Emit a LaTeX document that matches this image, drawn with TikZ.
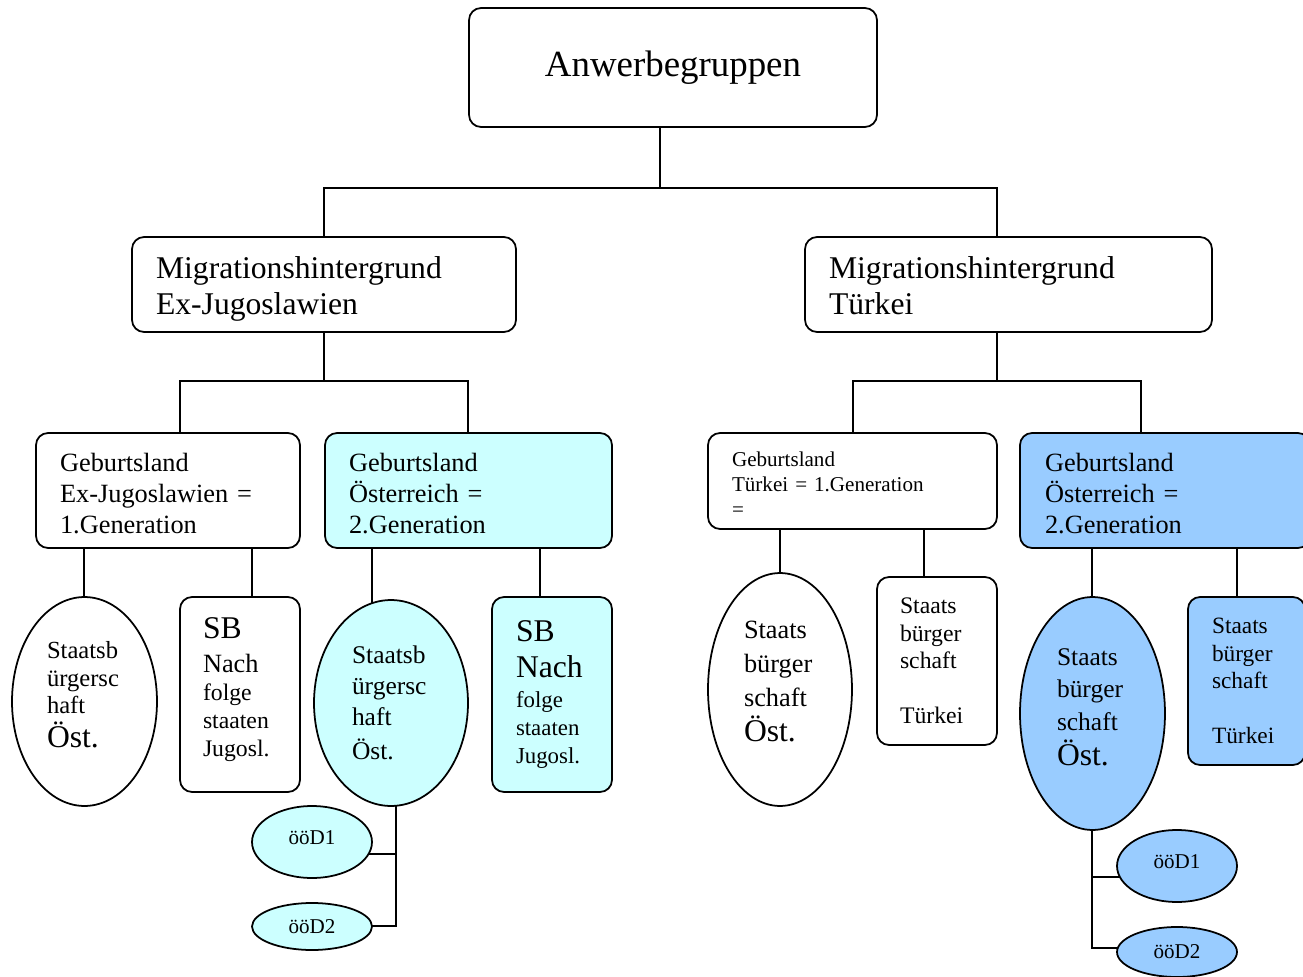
\documentclass[tikz,border=0pt]{standalone}
\usepackage{fontspec}
\setmainfont{Liberation Serif}
\usetikzlibrary{shapes,backgrounds}
\hyphenpenalty=10000
\definecolor{AT_CYAN}{HTML}{CCFFFF}
\definecolor{AT_BLUE}{HTML}{99CCFF}
\newcommand{\fsz}[2]{\fontsize{#1}{#2}\selectfont}
\newcommand{\padtop}[1]{\rule{0pt}{#1}}
\newcommand{\padbot}[1]{\rule[-#1]{0pt}{#1}}
\tikzstyle{WHITE_COLOR}=[fill=white]
\tikzstyle{CYAN_COLOR}=[fill=AT_CYAN]
\tikzstyle{BLUE_COLOR}=[fill=AT_BLUE]
\tikzstyle{grp_base}=[draw=black, line width=1pt, inner sep=0pt, align=left]
\tikzstyle{grp_box}=[grp_base, rectangle, rounded corners=0.24cm]
\tikzstyle{grp_oval}=[grp_base, ellipse]
\tikzstyle{sb_box}=[grp_box, minimum width=2.4cm, minimum height=3.9cm]
\tikzstyle{dd_oval}=[grp_oval, minimum width=2.4cm, font=\fsz{12}{14}]
\tikzstyle{link}=[line width=1pt]

\begin{document}
\begin{tikzpicture}[x=0.02cm, y=-0.02cm]
      \useasboundingbox (0,0) rectangle (1303,977);

      % top
      \node[grp_box, WHITE_COLOR, minimum width=8.16cm, minimum height=2.38cm, font=\fsz{21}{24}] (ANW) at (673,67.5) {Anwerbegruppen};

      %%%%%%%%%%%%%%%%%%%%%%%%%%%%%%%%%%%%%%%%%%%%%%%%%
      % MIGRATION GROUPS
      %%%%%%%%%%%%%%%%%%%%%%%%%%%%%%%%%%%%%%%%%%%%%%%%%
      \node[grp_box, WHITE_COLOR, minimum width=7.68cm, minimum height=1.9cm, text width=6.72cm, font=\fsz{18}{20.5}] (MEX) at (324,284.5) {\padtop{18pt}Migrationshintergrund\\Ex-Jugoslawien};
      \node[grp_box, WHITE_COLOR, minimum width=8.14cm, minimum height=1.9cm, text width=7.18cm, font=\fsz{18}{20.5}] (MTR) at (1008.5,284.5) {\padtop{14pt}Migrationshintergrund\\Türkei};

      %%%%%%%%%%%%%%%%%%%%%%%%%%%%%%%%%%%%%%%%%%%%%%%%%
      % GENERATIONS
      %%%%%%%%%%%%%%%%%%%%%%%%%%%%%%%%%%%%%%%%%%%%%%%%%
      \node[grp_box, WHITE_COLOR, minimum width=5.28cm, minimum height=2.3cm, text width=4.32cm, font=\fsz{15}{17.6}] (GEX) at (168,490.5) {\padtop{13.6pt}Geburtsland\\Ex-Jugoslawien =\\1.Generation};
      \node[grp_box, CYAN_COLOR, minimum width=5.74cm, minimum height=2.3cm, text width=4.78cm, font=\fsz{15}{17.6}] (GAT) at (468.5,490.5) {\padtop{13.6pt}Geburtsland\\Österreich =\\2.Generation};
      \node[grp_box, WHITE_COLOR, minimum width=5.78cm, minimum height=1.92cm, text width=4.82cm, font=\fsz{12}{14.2}] (GTR) at (852.5,481) {\padtop{11.5pt}Geburtsland\\Türkei = 1.Generation\\=};
      \node[grp_box, BLUE_COLOR, minimum width=5.8cm, minimum height=2.3cm, text width=4.8cm, font=\fsz{15}{17.6}] (GAT2) at (1165,490.5) {\padtop{13.6pt}Geburtsland\\Österreich =\\2.Generation};

      %%%%%%%%%%%%%%%%%%%%%%%%%%%%%%%%%%%%%%%%%%%%%%%%%
      % CITIZENSHIP
      %%%%%%%%%%%%%%%%%%%%%%%%%%%%%%%%%%%%%%%%%%%%%%%%%
      % Ex-Jugoslawien, 1. Generation
      \node[grp_oval, WHITE_COLOR, minimum width=2.9cm, minimum height=4.18cm, text width=1.5cm, font=\fsz{14}{15.6}] (ELL1) at (84.5,701.5) {Staatsb\\ürgersc\\haft\\[3.7pt]\fsz{18}{15.6}Öst.\padbot{8pt}};
      \node[sb_box, WHITE_COLOR, text width=1.48cm, font=\fsz{13.5}{16}] (SB1) at (240,694.5) {\fsz{18}{16}SB\\[3.3pt]\fsz{15}{16}Nach\\\fsz{13.5}{16}folge\\staaten\\Jugosl.\padbot{8.7pt}};

      % Ex-Jugoslawien, 2. Generation
      \node[grp_oval, CYAN_COLOR, minimum width=3.08cm, minimum height=4.12cm, text width=1.56cm, font=\fsz{14.5}{17.5}] (ELL2) at (391,703) {Staatsb\\ürgersc\\haft\\[2pt]Öst.};
      \node[sb_box, CYAN_COLOR, text width=1.44cm, font=\fsz{13}{16}] (SB2) at (552,694.5) {\fsz{18}{16}SB\\[4.4pt]Nach\\[1pt]\fsz{13}{16}folge\\staaten\\Jugosl.};
      \node[dd_oval, CYAN_COLOR, minimum height=1.44cm, text depth=0.16cm] (D1A) at (312,842) {ööD1};
      \node[dd_oval, CYAN_COLOR, minimum height=0.94cm] (D2A) at (312,926.5) {ööD2};

      % Tuerkei, 1. Generation
      \node[grp_oval, WHITE_COLOR, minimum width=2.88cm, minimum height=4.66cm, text width=1.44cm, font=\fsz{15}{19.3}] (ELL3) at (780,689.5) {Staats\\bürger\\schaft\\[0.7pt]\fsz{18}{19.3}Öst.\padbot{9pt}};
      \node[grp_box, WHITE_COLOR, minimum width=2.4cm, minimum height=3.36cm, text width=1.48cm, font=\fsz{13.5}{15.6}] (BX3) at (937,661) {Staats\\bürger\\schaft\\[15.6pt]Türkei};

      % Tuerkei, 2. Generation
      \node[grp_oval, BLUE_COLOR, minimum width=2.9cm, minimum height=4.66cm, text width=1.42cm, font=\fsz{14.5}{18.6}] (ELL4) at (1092.5,713.5) {Staats\\bürger\\schaft\\[1.5pt]\fsz{18}{18.6}Öst.\padbot{7.5pt}};
      \node[grp_box, BLUE_COLOR, minimum width=2.34cm, minimum height=3.36cm, text width=1.38cm, font=\fsz{13.3}{15.6}] (BX4) at (1246.5,681) {Staats\\bürger\\schaft\\[15.6pt]Türkei};
      \node[dd_oval, BLUE_COLOR, minimum height=1.44cm, text depth=0.16cm] (D1B) at (1177,866) {ööD1};
      \node[dd_oval, BLUE_COLOR, minimum height=1.0cm] (D2B) at (1177,952) {ööD2};

      %%%%%%%%%%%%%%%%%%%%%%%%%%%%%%%%%%%%%%%%%%%%%%%%%
      % CONNECTORS
      %%%%%%%%%%%%%%%%%%%%%%%%%%%%%%%%%%%%%%%%%%%%%%%%%
      \begin{scope}[on background layer]
      \coordinate (STEM0) at (660,188);
      \coordinate (BAR1L) at (324,188);
      \coordinate (BAR1R) at (997,188);
      \draw[link] (ANW.center -| STEM0) -- (STEM0);
      \draw[link] (MEX.center -| BAR1L) -- (BAR1L) -- (BAR1R) -- (MTR.center -| BAR1R);

      \coordinate (BAR2L) at (180,381);
      \coordinate (BAR2R) at (468,381);
      \draw[link] (MEX.center) -- (MEX.center |- BAR2L);
      \draw[link] (GEX.center -| BAR2L) -- (BAR2L) -- (BAR2R) -- (GAT.center -| BAR2R);

      \coordinate (BAR3L) at (853,381);
      \coordinate (BAR3M) at (997,381);
      \coordinate (BAR3R) at (1141,381);
      \draw[link] (MTR.center -| BAR3M) -- (BAR3M);
      \draw[link] (GTR.center -| BAR3L) -- (BAR3L) -- (BAR3R) -- (GAT2.center -| BAR3R);

      \coordinate (TIE0) at (84,0);
      \coordinate (TIE1) at (252,0);
      \coordinate (TIE2) at (372,0);
      \coordinate (TIE3) at (540,0);
      \coordinate (TIE4) at (924,0);
      \coordinate (TIE5) at (1092,0);
      \coordinate (TIE6) at (1237,0);
      \draw[link] (ELL1.center -| TIE0) -- (GEX.center -| TIE0);
      \draw[link] (SB1.center -| TIE1) -- (GEX.center -| TIE1);
      \draw[link] (ELL2.center -| TIE2) -- (GAT.center -| TIE2);
      \draw[link] (SB2.center -| TIE3) -- (GAT.center -| TIE3);
      \draw[link] (ELL3.center) -- (ELL3.center |- GTR.center);
      \draw[link] (BX3.center -| TIE4) -- (GTR.center -| TIE4);
      \draw[link] (ELL4.center -| TIE5) -- (GAT2.center -| TIE5);
      \draw[link] (BX4.center -| TIE6) -- (GAT2.center -| TIE6);

      \coordinate (DROP1) at (396,926);
      \coordinate (FORK1) at (396,854);
      \draw[link] (ELL2.center -| DROP1) -- (DROP1) -- (D2A.center |- DROP1);
      \draw[link] (FORK1) -- (D1A.center |- FORK1);

      \coordinate (DROP2) at (1092,948);
      \coordinate (FORK2) at (1092,877);
      \draw[link] (ELL4.center -| DROP2) -- (DROP2) -- (D2B.center |- DROP2);
      \draw[link] (FORK2) -- (D1B.center |- FORK2);
      \end{scope}
\end{tikzpicture}
\end{document}
